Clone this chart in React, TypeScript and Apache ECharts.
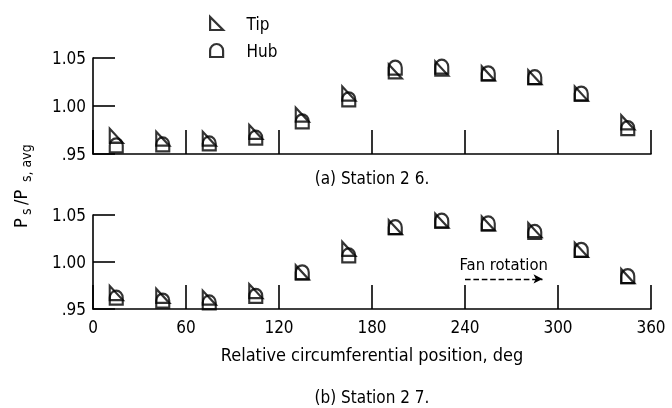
import React, { useEffect, useRef } from 'react';
import * as echarts from 'echarts';

const positions = [15, 45, 75, 105, 135, 165, 195, 225, 255, 285, 315, 345];
const tip26 = [0.969, 0.966, 0.966, 0.973, 0.991, 1.013, 1.036, 1.039, 1.034, 1.03, 1.013, 0.983];
const hub26 = [0.959, 0.96, 0.961, 0.967, 0.984, 1.007, 1.04, 1.041, 1.034, 1.03, 1.013, 0.977];
const tip27 = [0.967, 0.964, 0.962, 0.969, 0.989, 1.014, 1.037, 1.044, 1.041, 1.034, 1.013, 0.985];
const hub27 = [0.962, 0.959, 0.957, 0.964, 0.989, 1.007, 1.037, 1.044, 1.041, 1.032, 1.013, 0.985];
const xTicks = [0, 60, 120, 180, 240, 300, 360];
const yTicks = ['.95', '1.00', '1.05'];
const yValues = [0.95, 1.0, 1.05];
const fanArrow = [[240, 0.982], [290, 0.982]];

const FONT = "'DejaVu Sans Condensed', 'Liberation Sans Narrow', 'Roboto Condensed', 'DejaVu Sans', sans-serif";
const W = 'normal';
const TIP = 'path://M0,0 L0,12 L12,12 Z';
const HUB = 'path://M0,12 L0,6 A6,6 0 0 1 12,6 L12,12 Z';

const hollow = { color: 'rgba(255,255,255,0)', borderColor: '#000', borderWidth: 2.2 };

function pairs(vals: number[]) {
  return positions.map((p, i) => [p, vals[i]]);
}

export default function App() {
  const ref = useRef<HTMLDivElement>(null);
  useEffect(() => {
    if (!ref.current) return;
    const chart = echarts.init(ref.current, null, { renderer: 'svg' });
    const xAxisBase = (gridIndex: number, labels: boolean) => ({
      type: 'value',
      gridIndex,
      min: xTicks[0],
      max: xTicks[xTicks.length - 1],
      interval: xTicks[1] - xTicks[0],
      axisLine: { show: true, lineStyle: { color: '#000', width: 1.6 } },
      axisTick: { show: true, inside: true, length: 24, lineStyle: { color: '#000', width: 1.6 } },
      axisLabel: {
        show: labels,
        color: '#000',
        fontSize: 17,
        fontWeight: W,
        fontFamily: FONT,
        margin: 9,
      },
      splitLine: { show: false },
    });
    const yAxisBase = (gridIndex: number) => ({
      type: 'value',
      gridIndex,
      min: yValues[0],
      max: yValues[yValues.length - 1],
      interval: yValues[1] - yValues[0],
      axisLine: { show: true, lineStyle: { color: '#000', width: 1.6 } },
      axisTick: { show: true, inside: true, length: 22, lineStyle: { color: '#000', width: 1.6 } },
      axisLabel: {
        color: '#000',
        fontSize: 17,
        fontWeight: W,
        fontFamily: FONT,
        margin: 7,
        formatter: (v: number) => {
          const idx = yValues.findIndex((y) => Math.abs(y - v) < 1e-6);
          return idx >= 0 ? yTicks[idx] : '';
        },
      },
      splitLine: { show: false },
    });
    const series = (name: string, sym: string, data: number[], idx: number, extra: any = {}) => ({
      type: 'scatter',
      name,
      xAxisIndex: idx,
      yAxisIndex: idx,
      symbol: sym,
      symbolSize: [13, 14],
      itemStyle: hollow,
      data: pairs(data),
      ...extra,
    });
    chart.setOption({
      animation: false,
      grid: [
        { left: 93, right: 21, top: 58, height: 96 },
        { left: 93, right: 21, top: 215, height: 94 },
      ],
      legend: {
        orient: 'vertical',
        left: 204,
        top: 10,
        itemWidth: 14,
        itemHeight: 13,
        itemGap: 10,
        data: [
          { name: 'Tip', icon: TIP },
          { name: 'Hub', icon: HUB },
        ],
        itemStyle: hollow,
        textStyle: { fontSize: 17, fontWeight: W, fontFamily: FONT, color: '#000', padding: [0, 0, 0, 18] },
      },
      xAxis: [xAxisBase(0, false), {
        ...xAxisBase(1, true),
        name: 'Relative circumferential position, deg',
        nameLocation: 'middle',
        nameGap: 36,
        nameTextStyle: { fontSize: 18, fontWeight: W, fontFamily: FONT, color: '#000' },
      }],
      yAxis: [yAxisBase(0), yAxisBase(1)],
      series: [
        series('Tip', TIP, tip26, 0),
        series('Hub', HUB, hub26, 0),
        series('Tip', TIP, tip27, 1, {
          markLine: {
            silent: true,
            symbol: ['none', 'arrow'],
            symbolSize: [7, 9],
            lineStyle: { type: 'dashed', color: '#000', width: 1.4 },
            label: {
              show: true,
              position: 'middle',
              formatter: 'Fan rotation',
              fontSize: 16.5,
              fontWeight: W,
              fontFamily: FONT,
              color: '#000',
              distance: 6,
            },
            data: [[{ coord: fanArrow[0] }, { coord: fanArrow[1] }]],
          },
        }),
        series('Hub', HUB, hub27, 1),
      ],
      graphic: [
        {
          type: 'text', x: 372, y: 178,
          style: { text: '(a) Station 2 6.', fontSize: 17, fontWeight: W, fontFamily: FONT, fill: '#000', align: 'center', verticalAlign: 'middle' },
        },
        {
          type: 'text', x: 372, y: 397,
          style: { text: '(b) Station 2 7.', fontSize: 17, fontWeight: W, fontFamily: FONT, fill: '#000', align: 'center', verticalAlign: 'middle' },
        },
        {
          type: 'group', x: 20, y: 228, rotation: Math.PI / 2,
          children: [
            { type: 'text', x: 0, y: 0, style: { text: 'P', fontSize: 18, fontWeight: W, fontFamily: FONT, fill: '#000', align: 'left', verticalAlign: 'middle' } },
            { type: 'text', x: 13, y: 6, style: { text: 's', fontSize: 14, fontWeight: W, fontFamily: FONT, fill: '#000', align: 'left', verticalAlign: 'middle' } },
            { type: 'text', x: 23, y: 0, style: { text: '/P', fontSize: 18, fontWeight: W, fontFamily: FONT, fill: '#000', align: 'left', verticalAlign: 'middle' } },
            { type: 'text', x: 46, y: 6, style: { text: 's, avg', fontSize: 14, fontWeight: W, fontFamily: FONT, fill: '#000', align: 'left', verticalAlign: 'middle' } },
          ],
        },
      ],
    });
    return () => chart.dispose();
  }, []);
  return <div ref={ref} style={{ position: 'fixed', left: 0, top: 0, width: 672, height: 408 }} />;
}
